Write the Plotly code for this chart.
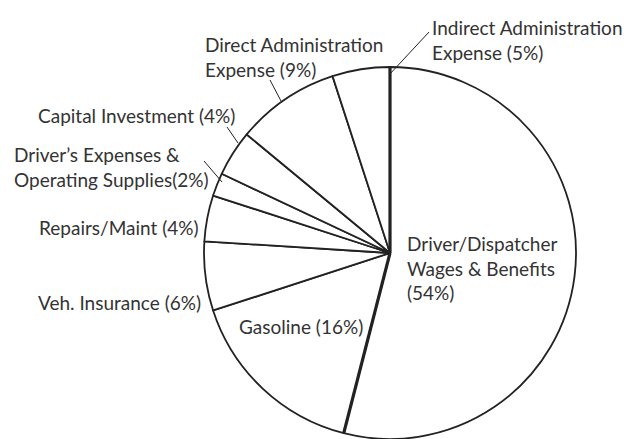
import math
import plotly.graph_objects as go

categories = [
    "Driver/Dispatcher Wages & Benefits",
    "Gasoline",
    "Veh. Insurance",
    "Repairs/Maint",
    "Driver's Expenses & Operating Supplies",
    "Capital Investment",
    "Direct Administration Expense",
    "Indirect Administration Expense",
]
values = [54, 16, 6, 4, 2, 4, 9, 5]
label_texts = [
    "Driver/Dispatcher<br>Wages & Benefits<br>(54%)",
    "Gasoline (16%)",
    "Veh. Insurance (6%)",
    "Repairs/Maint (4%)",
    "Driver\u2019s Expenses &<br>Operating Supplies(2%)",
    "Capital Investment (4%)",
    "Direct Administration<br>Expense (9%)",
    "Indirect Administration<br>Expense (5%)",
]

W, H = 630, 439
CX, CY, R = 390, 253, 186
TXT = "#333333"
LINE = "#222222"


def px(x):
    return x / W


def py(y):
    return 1 - y / H


fig = go.Figure(go.Pie(
    labels=categories,
    values=values,
    sort=False,
    direction="clockwise",
    rotation=0,
    textinfo="none",
    hoverinfo="label+percent",
    showlegend=False,
    marker=dict(colors=["white"] * len(values), line=dict(color=LINE, width=1.8)),
    domain=dict(x=[px(CX - R), px(CX + R)], y=[py(CY + R), py(CY - R)]),
))

# thick radial boundaries of the largest slice, angles derived from the data
total = sum(values)
for frac in [0, values[0] / total]:
    a = 2 * math.pi * frac
    fig.add_shape(type="line", xref="paper", yref="paper",
                  x0=px(CX), y0=py(CY),
                  x1=px(CX + R * math.sin(a)), y1=py(CY - R * math.cos(a)),
                  line=dict(color=LINE, width=3.2))

# label positions (pixel-based layout)
label_pos = [
    (405, 268, "left"),
    (237, 326, "left"),
    (36, 302, "left"),
    (37, 227, "left"),
    (12, 167, "left"),
    (36, 115, "left"),
    (203, 57, "left"),
    (430, 40, "left"),
]
for txt, (x, y, anc) in zip(label_texts, label_pos):
    fig.add_annotation(x=px(x), y=py(y), xref="paper", yref="paper",
                       text=txt, showarrow=False, xanchor=anc, yanchor="middle",
                       align="left", font=dict(family="Lato", size=19, color=TXT))

leaders = [
    ((389, 75), (429, 32)),
    ((270, 80), (281, 101)),
    ((227, 127), (238, 143)),
    ((204, 161), (222, 182)),
]
for (x0, y0), (x1, y1) in leaders:
    fig.add_shape(type="line", xref="paper", yref="paper",
                  x0=px(x0), y0=py(y0), x1=px(x1), y1=py(y1),
                  line=dict(color=LINE, width=1))

fig.update_layout(width=W, height=H, margin=dict(l=0, r=0, t=0, b=0),
                  paper_bgcolor="white", plot_bgcolor="white")
fig.write_html("out.html",
               config={"displayModeBar": False},
               post_script="document.body.style.margin='0';document.body.style.overflow='hidden';")
